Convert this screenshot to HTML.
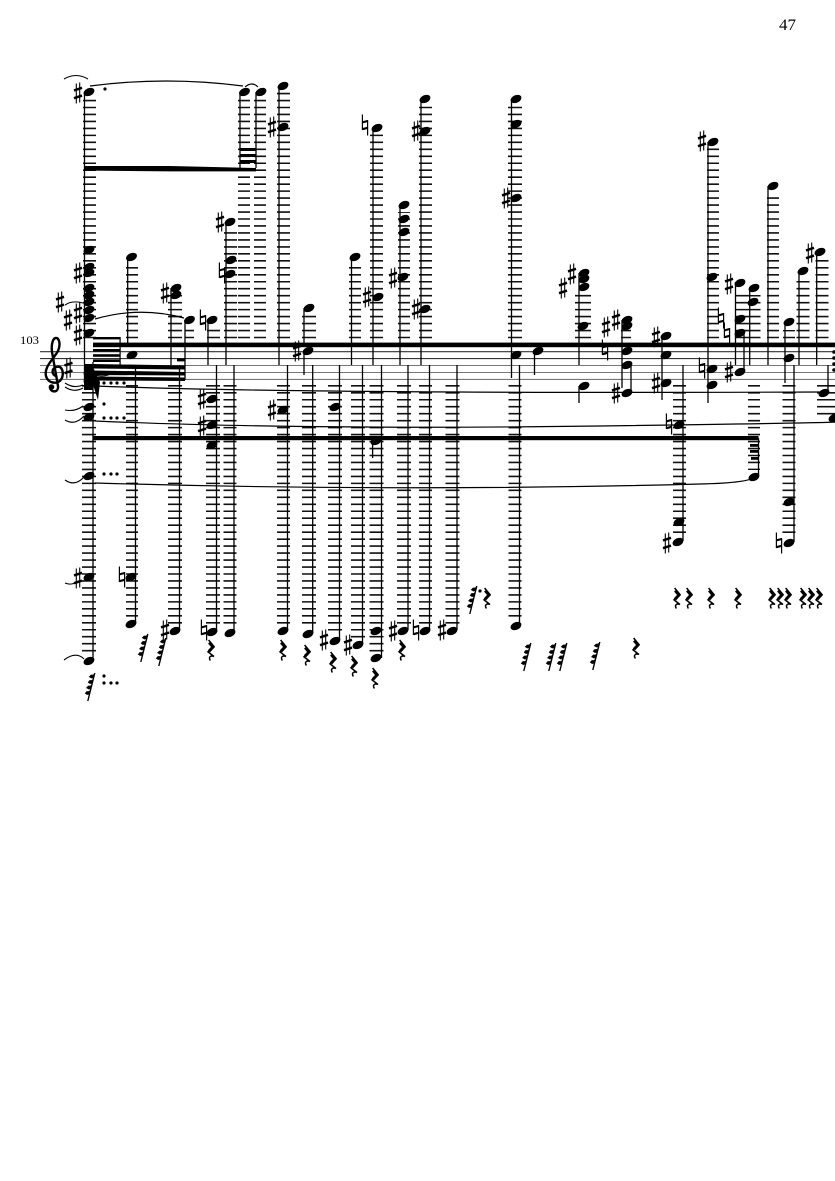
<!DOCTYPE html>
<html><head><meta charset="utf-8"><style>
html,body{margin:0;padding:0;background:#fff}
svg{display:block}
text{font-family:"Liberation Serif",serif;fill:#000}
</style></head><body>
<svg width="835" height="1181" viewBox="0 0 835 1181" xmlns="http://www.w3.org/2000/svg">
<defs>
<g id="n"><ellipse rx="5.7" ry="3.8" transform="rotate(-24)" fill="#000"/></g>
<g id="s" stroke="#000" fill="none"><path d="M-1.7 -9.5V10.5M1.7 -10.5V9.5" stroke-width="1.1"/><path d="M-4 -2.6L4 -5.2M-4 5.2L4 2.6" stroke-width="2.5"/></g>
<g id="h" stroke="#000" fill="none"><path d="M-2.6 -10.5V5M2.6 -5V10.5" stroke-width="1.2"/><path d="M-2.6 -2.6L2.6 -4M-2.6 4.2L2.6 2.8" stroke-width="2.1"/></g>
<g id="r" fill="none" stroke="#000" stroke-width="1.5"><path d="M-2.4 -10L3 -3.5L-3 1.8L3 6.5C0 5 -3 7 -.6 10.5"/><path d="M-1.8 -7.5L2 -3L-2 1.3" stroke-width="3"/></g>
<g id="f"><path d="M4.8 -14L-2.2 14" stroke="#000" stroke-width="1.4"/><path d="M4.5 -12.5L-1 -10M3 -7L-2 -4.5M1.6 -1.5L-3.6 1M.2 4L-5 6.5" stroke="#000" stroke-width="1"/><circle cx="1.8" cy="-10.5" r="1.9"/><circle cx=".4" cy="-5" r="1.9"/><circle cx="-1" cy=".5" r="1.9"/><circle cx="-2.4" cy="6" r="1.9"/></g>
</defs>

<text x="779" y="30" font-size="15.5" textLength="17" lengthAdjust="spacingAndGlyphs">47</text>
<text x="20" y="344" font-size="12" textLength="19" lengthAdjust="spacingAndGlyphs">103</text>

<!-- staff -->
<g stroke-width="1.1">
<path d="M40 351.7H835M40 358.6H835" stroke="#333"/>
<path d="M40 365.5H835M40 372.5H835M40 379.4H835" stroke="#777"/>
</g>

<!-- ledger above -->
<g fill="none" stroke="#111" stroke-dasharray="1.6 5.37">
<line x1="89.5" y1="338.3" x2="89.5" y2="98" stroke-width="13"/>
<line x1="132" y1="338.3" x2="132" y2="263" stroke-width="12"/>
<line x1="175" y1="338.3" x2="175" y2="295" stroke-width="14"/>
<line x1="189.5" y1="338.3" x2="189.5" y2="325" stroke-width="9"/>
<line x1="213.5" y1="338.3" x2="213.5" y2="327" stroke-width="13"/>
<line x1="230.5" y1="338.3" x2="230.5" y2="232" stroke-width="13"/>
<line x1="244" y1="338.3" x2="244" y2="98" stroke-width="12"/>
<line x1="260" y1="338.3" x2="260" y2="98" stroke-width="12"/>
<line x1="283.5" y1="338.3" x2="283.5" y2="92" stroke-width="13"/>
<line x1="309" y1="338.3" x2="309" y2="315" stroke-width="14"/>
<line x1="355" y1="338.3" x2="355" y2="263" stroke-width="12"/>
<line x1="376.5" y1="338.3" x2="376.5" y2="134" stroke-width="13"/>
<line x1="404" y1="338.3" x2="404" y2="212" stroke-width="12"/>
<line x1="425.5" y1="338.3" x2="425.5" y2="105" stroke-width="13"/>
<line x1="515" y1="338.3" x2="515" y2="105" stroke-width="14"/>
<line x1="583" y1="338.3" x2="583" y2="293" stroke-width="16"/>
<line x1="626" y1="338.3" x2="626" y2="327" stroke-width="10"/>
<line x1="713" y1="338.3" x2="713" y2="148" stroke-width="12"/>
<line x1="742" y1="338.3" x2="742" y2="290" stroke-width="14"/>
<line x1="755" y1="338.3" x2="755" y2="295" stroke-width="11"/>
<line x1="773" y1="338.3" x2="773" y2="193" stroke-width="12"/>
<line x1="789" y1="338.3" x2="789" y2="330" stroke-width="12"/>
<line x1="803" y1="338.3" x2="803" y2="277" stroke-width="13"/>
<line x1="822" y1="338.3" x2="822" y2="258" stroke-width="13"/>
</g>
<!-- ledger below -->
<g fill="none" stroke="#111" stroke-dasharray="1.6 5.37">
<line x1="89" y1="385" x2="89" y2="656" stroke-width="14"/>
<line x1="132" y1="385" x2="132" y2="618" stroke-width="12"/>
<line x1="175" y1="385" x2="175" y2="626" stroke-width="14"/>
<line x1="213" y1="385" x2="213" y2="627" stroke-width="14"/>
<line x1="230" y1="385" x2="230" y2="627" stroke-width="13"/>
<line x1="283.5" y1="385" x2="283.5" y2="626" stroke-width="13"/>
<line x1="309" y1="385" x2="309" y2="628" stroke-width="14"/>
<line x1="335" y1="385" x2="335" y2="634" stroke-width="14"/>
<line x1="358" y1="385" x2="358" y2="638" stroke-width="14"/>
<line x1="376.5" y1="385" x2="376.5" y2="652" stroke-width="14"/>
<line x1="404" y1="385" x2="404" y2="626" stroke-width="14"/>
<line x1="425.5" y1="385" x2="425.5" y2="626" stroke-width="13"/>
<line x1="452.5" y1="385" x2="452.5" y2="626" stroke-width="14"/>
<line x1="515" y1="385" x2="515" y2="620" stroke-width="13"/>
<line x1="679.5" y1="385" x2="679.5" y2="535" stroke-width="13"/>
<line x1="754" y1="385" x2="754" y2="470" stroke-width="12"/>
<line x1="789" y1="385" x2="789" y2="535" stroke-width="13"/>
<line x1="826" y1="385" x2="826" y2="415" stroke-width="18"/>
</g>

<!-- stems -->
<g stroke="#000" stroke-width="1.3" fill="none">
<path d="M84.5 92V380M93 362V660M127.7 257V345M135.5 365V622M171 288V365M179.5 365V630M185 320V380M208 320V365M216.5 365V632M226 222V365M234 365V633M240 92V168M256 92V168M279 86V365M287.5 365V630M304 308V345M304 351V375M312.7 365V633M351.5 257V365M339.5 365V640M373 128V365M362.5 365V645M372.6 441V458M381.5 365V658M400 205V365M408 365V630M421 99V365M429.5 365V630M457 365V630M511.5 99V378M519.5 365V625M534.5 351V375M579 273V365M579 386V403M622 320V388M631 365V393M662 336V400M683 365V541M708 142V403M735.5 282V365M744 333V372M749.7 287V365M758.5 438V476M768 186V365M785 322V383M794 365V542M799 271V365M816.7 252V365M828 365V392"/>
</g>

<!-- beams -->
<g fill="#000">
<rect x="93" y="342.6" width="742" height="4.6"/>
<rect x="93" y="436" width="665.5" height="4.2"/>
<path d="M84 166H170L256 168V171.4H170L84 170.5Z"/>
<rect x="240" y="148" width="16" height="3"/><rect x="240" y="154" width="16" height="3"/><rect x="240" y="160" width="16" height="3"/>
<rect x="93" y="337" width="27" height="2.4"/>
<rect x="93" y="349" width="27" height="2.6"/><rect x="93" y="354.2" width="27" height="2.6"/><rect x="93" y="359.4" width="27" height="2.6"/>
<rect x="119.5" y="337" width="1.2" height="28"/>
<path d="M93 364L185 365.5V369.5L93 368.5ZM93 370.5L185 372V375.5L93 375ZM93 376.5L185 377.5V381L93 380.5Z"/>
<rect x="177" y="358.4" width="8" height="3"/>
<path d="M84 364H93V390H84Z"/>
<path d="M93 368L100 382L98 400L93 385Z"/>
<rect x="750" y="444" width="8.5" height="2.8"/><rect x="750" y="450" width="8.5" height="2.8"/><rect x="751" y="457" width="7.5" height="2.8"/>
<rect x="622" y="364.5" width="9.5" height="1.4"/>
</g>

<!-- slurs -->
<g fill="none" stroke="#000" stroke-width="1.1">
<path d="M64 79Q76 72 88 79"/>
<path d="M90 86Q166 76 243 86" stroke-width="1.2"/>
<path d="M245 87Q252 81 258 87"/>
<path d="M95 319Q140 306 184 318" stroke-width="1.2"/>
<path d="M65 305Q72 300 83 303"/>
<path d="M95 386Q300 394 820 392" stroke-width="1.2"/>
<path d="M95 421Q300 430 600 426T835 421" stroke-width="1.2"/>
<path d="M95 483Q400 492 700 484Q745 483 753 478" stroke-width="1.2"/>
<path d="M65 383Q74 389 83 385M65 387Q74 393 83 388M65 410Q75 412 83 406M65 420Q75 426 84 416M65 480Q75 487 84 477M65 583Q72 586 78 581M64 660Q76 651 84 659"/>
<path d="M115 371Q108 378 94 375"/>
</g>

<!-- clef -->
<path d="M56 376C52 375 51 369 56 367C62 365 64 372 62 378C59 385 48 384 46 376C44 367 52 361 58 351C61 344 59 338 56 338C53 338 51 344 52 352L58 386C59 393 50 393 50 387" fill="none" stroke="#000" stroke-width="2.4"/>
<circle cx="51.5" cy="387" r="2.8"/>
<use href="#s" x="68.5" y="368"/>

<!-- noteheads -->
<g>
<use href="#n" x="89" y="92"/><use href="#n" x="89" y="250"/><use href="#n" x="89" y="267"/><use href="#n" x="89" y="273"/><use href="#n" x="89" y="288"/><use href="#n" x="89" y="295"/><use href="#n" x="89" y="302"/><use href="#n" x="89" y="310"/><use href="#n" x="89" y="318"/><use href="#n" x="89" y="333"/>
<use href="#n" x="89" y="372"/><use href="#n" x="89" y="380"/><use href="#n" x="89" y="407"/><use href="#n" x="89" y="417"/><use href="#n" x="89" y="476"/><use href="#n" x="89" y="577"/><use href="#n" x="89" y="661"/>
<use href="#n" x="131.5" y="257"/><use href="#n" x="132" y="355"/><use href="#n" x="131" y="577"/><use href="#n" x="131" y="624"/>
<use href="#n" x="176" y="288"/><use href="#n" x="176" y="295"/><use href="#n" x="175" y="631"/>
<use href="#n" x="189.5" y="320"/><use href="#n" x="212" y="320"/>
<use href="#n" x="212" y="399"/><use href="#n" x="212" y="425"/><use href="#n" x="212" y="445"/><use href="#n" x="212" y="632"/>
<use href="#n" x="230" y="222"/><use href="#n" x="231" y="260"/><use href="#n" x="230" y="274"/><use href="#n" x="230" y="633"/>
<use href="#n" x="244.5" y="92"/><use href="#n" x="261" y="92"/>
<use href="#n" x="283" y="86"/><use href="#n" x="283" y="127"/><use href="#n" x="283" y="410"/><use href="#n" x="283" y="631"/>
<use href="#n" x="309" y="308"/><use href="#n" x="308" y="351"/><use href="#n" x="308" y="634"/>
<use href="#n" x="335" y="407"/><use href="#n" x="335" y="641"/>
<use href="#n" x="355" y="257"/><use href="#n" x="358" y="645"/>
<use href="#n" x="377" y="128"/><use href="#n" x="378" y="297"/><use href="#n" x="376" y="441"/><use href="#n" x="376" y="631"/><use href="#n" x="376" y="658"/>
<use href="#n" x="404" y="205"/><use href="#n" x="404" y="219"/><use href="#n" x="404" y="232"/><use href="#n" x="403" y="277"/><use href="#n" x="403" y="631"/>
<use href="#n" x="425" y="99"/><use href="#n" x="425" y="131"/><use href="#n" x="425" y="309"/><use href="#n" x="425" y="631"/>
<use href="#n" x="452" y="631"/>
<use href="#n" x="516" y="99"/><use href="#n" x="516" y="124"/><use href="#n" x="516" y="198"/><use href="#n" x="516" y="355"/><use href="#n" x="516" y="626"/>
<use href="#n" x="538" y="351"/>
<use href="#n" x="584" y="273"/><use href="#n" x="584" y="279"/><use href="#n" x="584" y="287"/><use href="#n" x="583" y="326"/><use href="#n" x="584" y="386"/>
<use href="#n" x="627" y="320"/><use href="#n" x="627" y="326"/><use href="#n" x="627" y="351"/><use href="#n" x="627" y="365"/><use href="#n" x="627" y="393"/>
<use href="#n" x="666" y="336"/><use href="#n" x="666" y="355"/><use href="#n" x="666" y="383"/>
<use href="#n" x="679" y="425"/><use href="#n" x="679" y="522"/><use href="#n" x="678" y="542"/>
<use href="#n" x="713" y="142"/><use href="#n" x="712" y="277"/><use href="#n" x="712" y="369"/><use href="#n" x="712" y="385"/>
<use href="#n" x="740" y="283"/><use href="#n" x="740" y="319"/><use href="#n" x="740" y="333"/><use href="#n" x="740" y="372"/>
<use href="#n" x="754" y="288"/><use href="#n" x="753" y="302"/><use href="#n" x="754" y="477"/>
<use href="#n" x="773" y="186"/>
<use href="#n" x="789" y="322"/><use href="#n" x="789" y="358"/><use href="#n" x="789" y="502"/><use href="#n" x="789" y="543"/>
<use href="#n" x="803" y="271"/><use href="#n" x="820" y="252"/><use href="#n" x="824" y="393"/><use href="#n" x="834" y="418"/>
</g>

<!-- sharps -->
<g>
<use href="#s" x="78" y="93"/><use href="#s" x="78" y="273"/><use href="#s" x="60" y="302"/><use href="#s" x="68" y="320"/><use href="#s" x="78" y="313"/><use href="#s" x="78" y="335"/>
<use href="#s" x="78" y="578"/><use href="#s" x="165" y="293"/><use href="#s" x="220" y="222"/><use href="#s" x="202" y="399"/><use href="#s" x="202" y="426"/><use href="#s" x="165" y="630"/>
<use href="#s" x="272" y="127"/><use href="#s" x="272" y="410"/><use href="#s" x="297" y="351"/><use href="#s" x="324" y="640"/><use href="#s" x="348" y="645"/><use href="#s" x="367" y="297"/>
<use href="#s" x="393" y="278"/><use href="#s" x="393" y="631"/><use href="#s" x="416" y="131"/><use href="#s" x="416" y="309"/><use href="#s" x="442" y="630"/><use href="#s" x="506" y="198"/>
<use href="#s" x="563" y="288"/><use href="#s" x="572" y="274"/><use href="#s" x="606" y="327"/><use href="#s" x="616" y="320"/><use href="#s" x="616" y="393"/>
<use href="#s" x="656" y="337"/><use href="#s" x="656" y="383"/><use href="#s" x="667" y="543"/><use href="#s" x="702" y="141"/><use href="#s" x="729" y="284"/><use href="#s" x="729" y="372"/><use href="#s" x="810" y="253"/>
</g>
<!-- naturals -->
<g>
<use href="#h" x="203" y="320"/><use href="#h" x="222" y="273"/><use href="#h" x="122" y="577"/><use href="#h" x="204" y="630"/><use href="#h" x="365" y="125"/><use href="#h" x="416" y="630"/><use href="#h" x="605" y="350"/><use href="#h" x="669" y="424"/><use href="#h" x="702" y="368"/><use href="#h" x="721" y="318"/><use href="#h" x="727" y="333"/><use href="#h" x="779" y="543"/>
</g>

<!-- rests -->
<g>
<use href="#r" x="211" y="650"/><use href="#r" x="283" y="650"/><use href="#r" x="307" y="655"/><use href="#r" x="333" y="662"/><use href="#r" x="354" y="666"/><use href="#r" x="375" y="678"/><use href="#r" x="402" y="650"/><use href="#r" x="487" y="598"/><use href="#r" x="636" y="648"/>
<use href="#r" x="677" y="598"/><use href="#r" x="689" y="598"/><use href="#r" x="711" y="598"/><use href="#r" x="738" y="598"/><use href="#r" x="772" y="598"/><use href="#r" x="780" y="598"/><use href="#r" x="788" y="598"/><use href="#r" x="803" y="598"/><use href="#r" x="811" y="598"/><use href="#r" x="819" y="598"/>
<use href="#f" x="143" y="648"/><use href="#f" x="161" y="652"/><use href="#f" x="90" y="687"/><use href="#f" x="472" y="600"/>
<use href="#f" x="526" y="657"/><use href="#f" x="551" y="657"/><use href="#f" x="562" y="657"/><use href="#f" x="595" y="656"/>
</g>

<!-- dots -->
<g fill="#000">
<circle cx="105" cy="89" r="1.6"/><circle cx="104" cy="383" r="1.6"/><circle cx="111" cy="383" r="1.6"/><circle cx="117" cy="383" r="1.6"/><circle cx="124" cy="383" r="1.6"/>
<circle cx="104" cy="404" r="1.6"/><circle cx="104" cy="418" r="1.6"/><circle cx="111" cy="418" r="1.6"/><circle cx="117" cy="418" r="1.6"/><circle cx="124" cy="418" r="1.6"/>
<circle cx="104" cy="474" r="1.6"/><circle cx="111" cy="474" r="1.6"/><circle cx="117" cy="474" r="1.6"/>
<circle cx="104" cy="676" r="1.6"/><circle cx="104" cy="683" r="1.6"/><circle cx="111" cy="683" r="1.6"/><circle cx="117" cy="683" r="1.6"/>
<circle cx="480" cy="591" r="1.6"/>
<circle cx="834" cy="352" r="1.8"/><circle cx="834" cy="358" r="1.8"/><circle cx="834" cy="364" r="1.8"/><circle cx="834" cy="370" r="1.8"/>
</g>
</svg>
</body></html>
